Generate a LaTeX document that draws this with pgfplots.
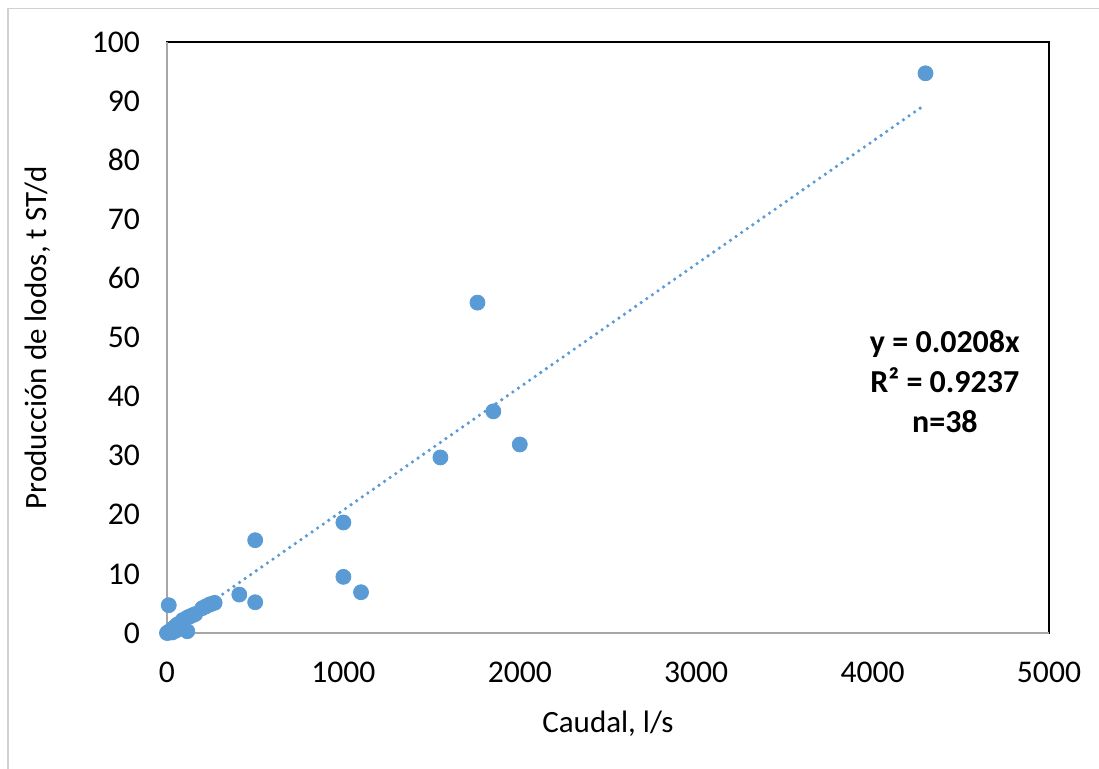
\documentclass[border=0pt]{standalone}
\usepackage{fontspec}
\setmainfont{Carlito}
\usepackage{pgfplots}
\pgfplotsset{compat=1.18}
\definecolor{xblue}{HTML}{5B9BD5}
\begin{document}
\begin{tikzpicture}
\useasboundingbox (-83.5pt,-68pt) rectangle (466pt,316.5pt);
\draw[black!18, line width=0.8pt] (-79.5pt,-70pt) -- (-79.5pt,312.3pt) -- (470pt,312.3pt);
\begin{axis}[
  scale only axis, width=441pt, height=295.5pt,
  xmin=0, xmax=5000, ymin=0, ymax=100,
  xtick={0,1000,...,5000}, ytick={0,10,...,100},
  major tick length=0,
  axis line style={black, line width=0.8pt},
  /pgf/number format/assume math mode=true,
  /pgf/number format/1000 sep={},
  scaled ticks=false,
  tick label style={font=\fontsize{15.8}{18}\selectfont},
  yticklabel style={xshift=-10pt},
  xticklabel style={yshift=-11pt},
  label style={font=\fontsize{15.5}{18}\selectfont},
  xlabel={Caudal, l/s},
  ylabel={Producción de lodos, t ST/d},
  xlabel style={at={(axis description cs:0.5,-0.1692)}, anchor=base},
  ylabel style={at={(axis description cs:-0.1463,0.5)}, anchor=center},
  clip=false,
]
\addplot[xblue, line width=1.8pt, line cap=round, dash pattern=on 0pt off 3.4pt] coordinates {(0,0) (4300,89.44)};
\addplot[only marks, mark=*, mark size=3.75pt, mark options={fill=xblue, draw=xblue}] coordinates {
(4300,94.7) (1760,55.9) (1850,37.5) (2000,31.9) (1550,29.7)
(1000,18.7) (500,15.7) (1000,9.5) (1100,6.9) (410,6.5)
(500,5.2) (10,4.7) (270,5.1) (240,4.8) (200,4.2)
(145,3.0) (115,2.6) (85,1.9) (57,1.4) (115,0.3)
(30,0.1) (0,0) (5,0.05) (10,0.2) (15,0.1) (20,0.3)
(25,0.5) (35,0.8) (40,0.6) (45,1.0) (50,0.4) (60,0.9)
(70,1.6) (90,2.2) (130,2.8) (160,3.2) (220,4.5) (250,4.9)
};
\draw[black!35, line width=1pt] (rel axis cs:0,1) -- (rel axis cs:0,0) -- (rel axis cs:1,0);
\node[font=\bfseries\fontsize{16}{20}\selectfont, align=center] at (axis cs:4410,42.6) {y = 0.0208x\\R² = 0.9237\\n=38};
\end{axis}
\end{tikzpicture}
\end{document}
